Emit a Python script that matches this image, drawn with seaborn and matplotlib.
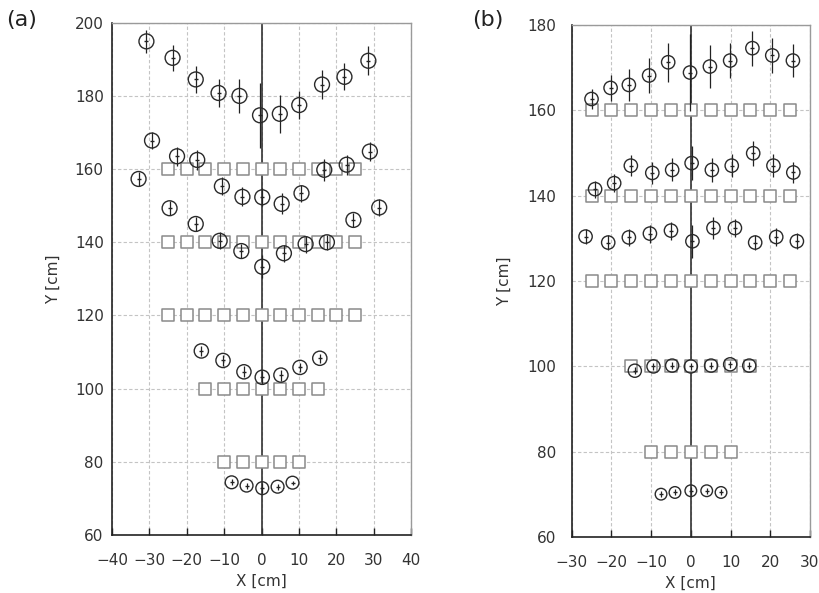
import numpy as np
import pandas as pd
import seaborn as sns
import matplotlib.pyplot as plt

# ---- panel (a) data: target grid (squares) and measured points (circles) ----
a_sq_y = [160, 140, 120, 100, 80]
a_sq_x = [list(range(-25, 26, 5)), list(range(-25, 26, 5)), list(range(-25, 26, 5)),
          list(range(-15, 16, 5)), list(range(-10, 11, 5))]

a1_x = [-30.8, -23.8, -17.6, -11.5, -5.9, -0.4, 4.9, 10.1, 16.2, 22.2, 28.6]
a1_y = [194.9, 190.4, 184.5, 180.8, 180.0, 174.7, 175.1, 177.5, 183.1, 185.2, 189.6]
a1_e = [3.1, 3.5, 3.6, 3.9, 4.7, 8.9, 5.2, 3.9, 4.0, 3.7, 3.9]

a2_x = [-29.3, -22.6, -17.2, -10.6, -5.1, 0.2, 5.4, 10.7, 16.8, 22.8, 29.0]
a2_y = [167.8, 163.5, 162.5, 155.3, 152.4, 152.3, 150.5, 153.4, 159.8, 161.2, 164.8]
a2_e = [2.3, 2.6, 2.7, 2.5, 2.6, 2.5, 2.9, 2.3, 3.0, 2.7, 2.5]

a3_x = [-32.9, -24.6, -17.6, -11.2, -5.4, 0.2, 6.0, 11.8, 17.5, 24.6, 31.5]
a3_y = [157.3, 149.3, 145.0, 140.4, 137.6, 133.3, 137.0, 139.5, 140.0, 146.1, 149.5]
a3_e = [2.0, 1.9, 2.0, 2.3, 2.0, 3.2, 2.3, 2.3, 2.1, 2.0, 2.2]

a4_x = [-16.1, -10.3, -4.7, 0.2, 5.2, 10.3, 15.6]
a4_y = [110.3, 107.7, 104.6, 103.1, 103.7, 105.8, 108.3]
a4_e = [1.3, 1.5, 1.5, 1.8, 1.5, 1.3, 1.2]

a5_x = [-8.0, -4.0, 0.2, 4.3, 8.3]
a5_y = [74.4, 73.5, 72.8, 73.2, 74.3]
a5_e = [0.8, 0.8, 1.3, 0.8, 0.5]

# ---- panel (b) data ----
b_sq_y = [160, 140, 120, 100, 80]
b_sq_x = [list(range(-25, 26, 5)), list(range(-25, 26, 5)), list(range(-25, 26, 5)),
          list(range(-15, 16, 5)), list(range(-10, 11, 5))]

b1_x = [-25.0, -20.2, -15.6, -10.5, -5.7, -0.2, 4.8, 9.9, 15.5, 20.5, 25.7]
b1_y = [162.6, 165.2, 165.9, 168.1, 171.2, 168.8, 170.2, 171.6, 174.5, 172.8, 171.6]
b1_e = [2.4, 3.0, 3.7, 4.0, 4.6, 9.0, 5.1, 4.1, 4.1, 4.0, 3.9]

b2_x = [-24.1, -19.3, -15.1, -9.7, -4.7, 0.2, 5.3, 10.3, 15.7, 20.8, 25.8]
b2_y = [141.5, 142.9, 147.0, 145.3, 146.0, 147.6, 146.0, 147.0, 149.9, 147.0, 145.4]
b2_e = [2.0, 2.1, 2.5, 2.6, 2.7, 4.0, 2.9, 2.7, 2.9, 2.7, 2.5]

b3_x = [-26.5, -20.8, -15.6, -10.3, -5.0, 0.4, 5.7, 11.1, 16.2, 21.5, 26.7]
b3_y = [130.4, 129.0, 130.2, 131.1, 131.8, 129.3, 132.4, 132.4, 129.0, 130.3, 129.3]
b3_e = [1.7, 1.8, 2.0, 2.1, 2.1, 3.9, 2.5, 2.2, 1.8, 2.0, 1.9]

b4_x = [-14.1, -9.4, -4.7, 0.0, 5.1, 9.9, 14.7]
b4_y = [99.0, 100.0, 100.2, 100.0, 100.2, 100.5, 100.2]
b4_e = [0.8, 0.8, 0.8, 0.8, 0.8, 0.8, 0.8]

b5_x = [-7.5, -4.0, 0.0, 4.0, 7.6]
b5_y = [70.1, 70.5, 70.9, 70.9, 70.5]
b5_e = [0.7, 0.7, 0.9, 0.7, 0.7]

sns.set_theme(style='white')
plt.rcParams['font.family'] = ['DejaVu Sans']


def squares_df(xs, ys):
    rows = []
    for xrow, yv in zip(xs, ys):
        for xv in xrow:
            rows.append((xv, yv))
    return pd.DataFrame(rows, columns=['x', 'y'])


def draw_panel(ax, sq_x, sq_y, series, xlim, ylim, xticks, yticks, ypad, xpad, ylab_x):
    ax.set_xlim(xlim)
    ax.set_ylim(ylim)
    ax.set_xticks(xticks)
    ax.set_yticks(yticks)
    ax.grid(True, linestyle=(0, (3, 2)), color='#c4c4c4', linewidth=0.8)
    ax.set_axisbelow(True)
    ax.axvline(0, color='#333333', linewidth=1.2, zorder=1.5)

    sq = squares_df(sq_x, sq_y)
    sns.scatterplot(data=sq, x='x', y='y', marker='s', s=80, color='white',
                    edgecolor='#8a8a8a', linewidth=1.1, ax=ax, zorder=2)

    for xs, ys, es, size in series:
        ax.errorbar(xs, ys, yerr=es, fmt='none', ecolor='#222222', elinewidth=0.9, zorder=3)
        pts = pd.DataFrame({'x': xs, 'y': ys})
        sns.scatterplot(data=pts, x='x', y='y', marker='o', s=size, facecolor='none',
                        edgecolor='#2a2a2a', linewidth=1.0, ax=ax, zorder=4)
        ax.plot(xs, ys, linestyle='none', marker='_', markersize=3, color='#222222', zorder=4)

    for side in ['top', 'right']:
        ax.spines[side].set_color('#9a9a9a')
        ax.spines[side].set_linewidth(1.0)
    for side in ['left', 'bottom']:
        ax.spines[side].set_color('#222222')
        ax.spines[side].set_linewidth(1.2)

    ax.tick_params(axis='x', direction='in', length=5, width=1, color='#222222',
                   pad=xpad, labelsize=11, labelcolor='#333333', bottom=True)
    ax.tick_params(axis='y', length=0, pad=ypad, labelsize=11, labelcolor='#333333')
    ax.set_xlabel('X [cm]', fontsize=11, color='#333333', labelpad=4)
    ax.set_ylabel('Y [cm]', fontsize=11, color='#333333')
    ax.yaxis.set_label_coords(ylab_x, 0.5)


fig = plt.figure(figsize=(8.19, 5.93), dpi=100)
ax1 = fig.add_axes([0.1368, 0.0978, 0.3650, 0.8639])
ax2 = fig.add_axes([0.698, 0.0939, 0.291, 0.8645])

series_a = [(a1_x, a1_y, a1_e, 115), (a2_x, a2_y, a2_e, 115), (a3_x, a3_y, a3_e, 115),
            (a4_x, a4_y, a4_e, 105), (a5_x, a5_y, a5_e, 85)]
series_b = [(b1_x, b1_y, b1_e, 92), (b2_x, b2_y, b2_e, 92), (b3_x, b3_y, b3_e, 92),
            (b4_x, b4_y, b4_e, 90), (b5_x, b5_y, b5_e, 70)]

draw_panel(ax1, a_sq_x, a_sq_y, series_a, (-40, 40), (60, 200),
           range(-40, 41, 10), range(60, 201, 20), 6, 13, -0.17)
draw_panel(ax2, b_sq_x, b_sq_y, series_b, (-30, 30), (60, 180),
           range(-30, 31, 10), range(60, 181, 20), 11, 13, -0.25)

fig.text(0.008, 0.966, '(a)', fontsize=16, va='center', color='#222222')
fig.text(0.576, 0.966, '(b)', fontsize=16, va='center', color='#222222')

fig.savefig('out.png', dpi=100)
